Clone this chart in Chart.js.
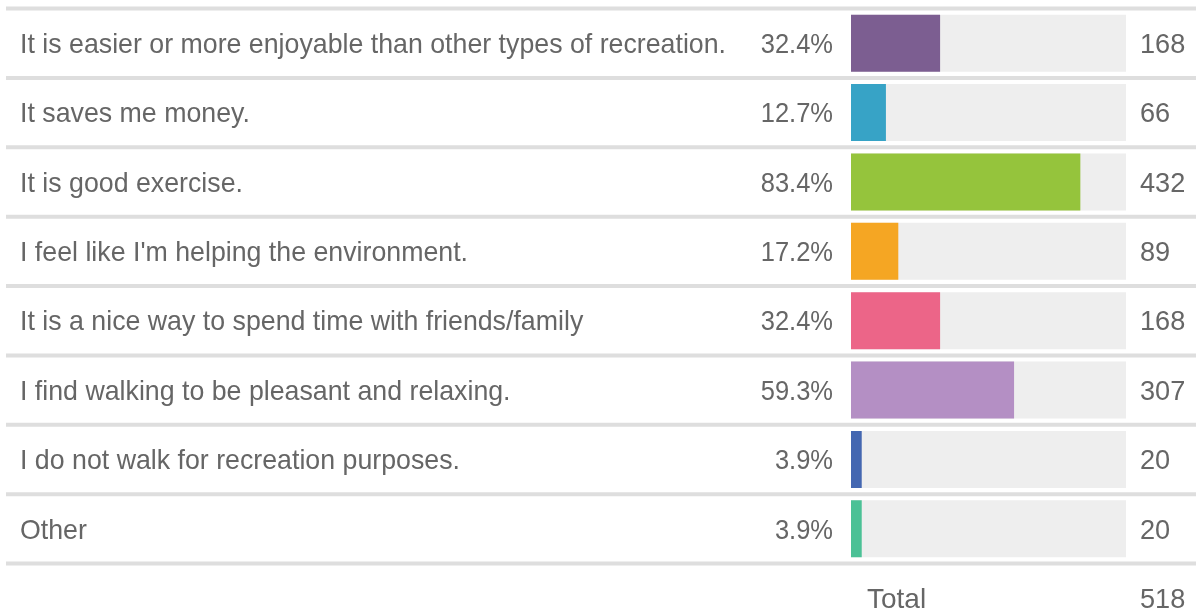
<!DOCTYPE html>
<html>
<head>
<meta charset="utf-8">
<script src="https://cdn.jsdelivr.net/npm/chart.js@4.4.1/dist/chart.umd.min.js"></script>
<style>
    html, body { margin: 0; padding: 0; background: #fff; }
</style>
</head>
<body>
<canvas id="myChart" width="1196" height="613"></canvas>
<script>
const labels = [
    'It is easier or more enjoyable than other types of recreation.',
    'It saves me money.',
    'It is good exercise.',
    "I feel like I'm helping the environment.",
    'It is a nice way to spend time with friends/family',
    'I find walking to be pleasant and relaxing.',
    'I do not walk for recreation purposes.',
    'Other'
];
const percents = [32.4, 12.7, 83.4, 17.2, 32.4, 59.3, 3.9, 3.9];
const counts = [168, 66, 432, 89, 168, 307, 20, 20];
const total = 518;
const colors = ['#7c5e91', '#37a3c6', '#95c43c', '#f5a623', '#ec6588', '#b48fc4', '#4467b1', '#4bc196'];

const FONT = '28px "Liberation Sans", Arial, sans-serif';
const TEXT = '#666666';

// text in the reference is a bit narrower than Liberation Sans, squeeze it
function squeezed(c, str, x, y, align, sx) {
    c.save();
    c.translate(x, y);
    c.scale(sx, 1);
    c.textAlign = align;
    c.fillText(str, 0, 0);
    c.restore();
}

// row lines + all the text
const tablePlugin = {
    id: 'table',
    beforeDatasetsDraw(chart) {
        const c = chart.ctx;
        const y = chart.scales.y;
        const step = (y.bottom - y.top) / labels.length;
        c.save();
        c.strokeStyle = '#dedede';
        c.lineWidth = 4;
        for (let i = 0; i <= labels.length; i++) {
            const py = y.getPixelForValue(0) - step / 2 + i * step;
            c.beginPath();
            c.moveTo(6, py);
            c.lineTo(chart.width, py);
            c.stroke();
        }
        c.restore();
    },
    afterDraw(chart) {
        const c = chart.ctx;
        const y = chart.scales.y;
        const area = chart.chartArea;
        const step = (y.bottom - y.top) / labels.length;
        c.save();
        c.font = FONT;
        c.fillStyle = TEXT;
        c.textBaseline = 'middle';
        labels.forEach((lab, i) => {
            const py = y.getPixelForValue(i) + 2;
            squeezed(c, lab, 20, py, 'left', 0.955);
            squeezed(c, percents[i].toFixed(1) + '%', area.left - 18, py, 'right', 0.91);
            squeezed(c, String(counts[i]), area.right + 14, py, 'left', 0.97);
        });
        const ty = y.getPixelForValue(labels.length - 1) + step + 2;
        squeezed(c, 'Total', area.left + 16, ty, 'left', 1);
        squeezed(c, String(total), area.right + 14, ty, 'left', 0.97);
        c.restore();
    }
};

const ctx = document.getElementById('myChart').getContext('2d');
const myChart = new Chart(ctx, {
    type: 'bar',
    data: {
        labels: labels,
        datasets: [{
            label: 'Percent',
            data: percents,
            backgroundColor: colors,
            grouped: false,
            order: 1,
            barPercentage: 1,
            categoryPercentage: 0.82
        }, {
            label: 'Track',
            data: labels.map(() => 100),
            backgroundColor: '#eeeeee',
            grouped: false,
            order: 2,
            barPercentage: 1,
            categoryPercentage: 0.82
        }]
    },
    options: {
        indexAxis: 'y',
        responsive: false,
        animation: false,
        layout: {
            padding: { left: 851, right: 70, top: 8.5, bottom: 49.5 }
        },
        scales: {
            x: { display: false, min: 0, max: 100 },
            y: { display: false }
        },
        plugins: {
            legend: { display: false },
            tooltip: { enabled: false }
        }
    },
    plugins: [tablePlugin]
});
</script>
</body>
</html>
